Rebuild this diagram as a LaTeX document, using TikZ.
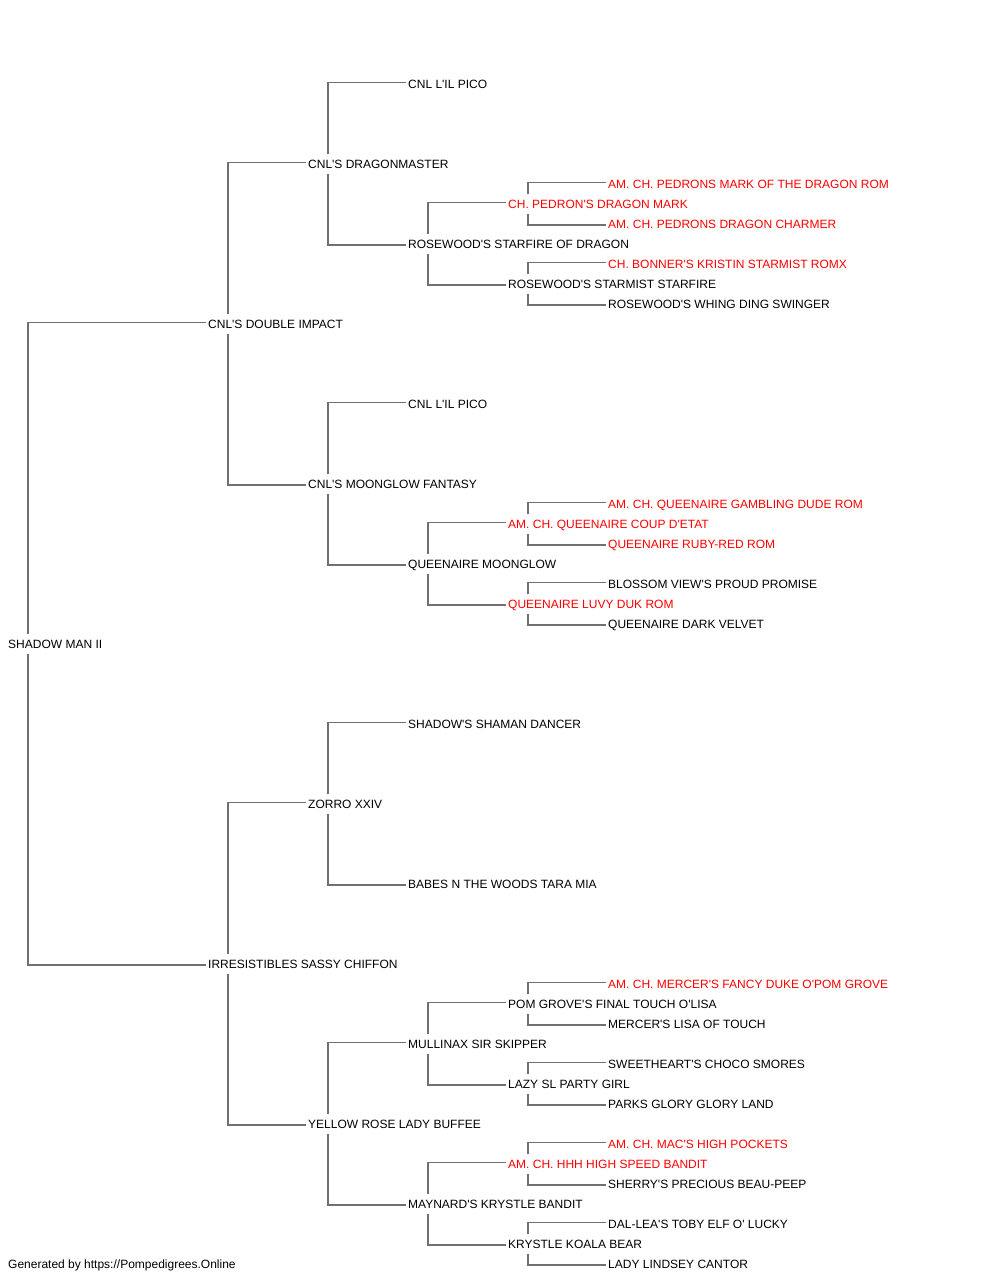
\documentclass[tikz,border=0pt]{standalone}
\usepackage{fontspec}
\setmainfont{Liberation Sans}[Ligatures=TeXOff]
\usepackage{xcolor}
\usepackage{tikz}
\usetikzlibrary{positioning}
\definecolor{linkgray}{RGB}{112,112,112}
\definecolor{champred}{RGB}{255,0,0}
\tikzstyle{dog} = [
    anchor=west,
    inner xsep=2pt,
    inner ysep=5.2pt,
    text height=8.6pt,
    text depth=0pt,
    font=\fontsize{12pt}{14pt}\selectfont
]
\tikzstyle{champ} = [
    dog,
    text=champred
]
\tikzstyle{link} = [
    draw=linkgray,
    line width=1.4pt
]

\begin{document}
\begin{tikzpicture}[x=1pt, y=-1pt]
    \useasboundingbox (0,0) rectangle (1000,1280);
    % generation 0 and 1
    \node[dog] (root) at (6,644)  {SHADOW MAN II};
    \node[dog] (s)    at (206,324) {CNL'S DOUBLE IMPACT};
    \node[dog] (d)    at (206,964) {IRRESISTIBLES SASSY CHIFFON};
    % generation 2
    \node[dog] (ss) at (306,164)  {CNL'S DRAGONMASTER};
    \node[dog] (sd) at (306,484)  {CNL'S MOONGLOW FANTASY};
    \node[dog] (ds) at (306,804)  {ZORRO XXIV};
    \node[dog] (dd) at (306,1124) {YELLOW ROSE LADY BUFFEE};
    % generation 3
    \node[dog] (sss) at (406,84)   {CNL L'IL PICO};
    \node[dog] (ssd) at (406,244)  {ROSEWOOD'S STARFIRE OF DRAGON};
    \node[dog] (sds) at (406,404)  {CNL L'IL PICO};
    \node[dog] (sdd) at (406,564)  {QUEENAIRE MOONGLOW};
    \node[dog] (dss) at (406,724)  {SHADOW'S SHAMAN DANCER};
    \node[dog] (dsd) at (406,884)  {BABES N THE WOODS TARA MIA};
    \node[dog] (dds) at (406,1044) {MULLINAX SIR SKIPPER};
    \node[dog] (ddd) at (406,1204) {MAYNARD'S KRYSTLE BANDIT};
    % generation 4
    \node[champ] (ssds) at (506,204)  {CH. PEDRON'S DRAGON MARK};
    \node[dog]   (ssdd) at (506,284)  {ROSEWOOD'S STARMIST STARFIRE};
    \node[champ] (sdds) at (506,524)  {AM. CH. QUEENAIRE COUP D'ETAT};
    \node[champ] (sddd) at (506,604)  {QUEENAIRE LUVY DUK ROM};
    \node[dog]   (ddss) at (506,1004) {POM GROVE'S FINAL TOUCH O'LISA};
    \node[dog]   (ddsd) at (506,1084) {LAZY SL PARTY GIRL};
    \node[champ] (ddds) at (506,1164) {AM. CH. HHH HIGH SPEED BANDIT};
    \node[dog]   (dddd) at (506,1244) {KRYSTLE KOALA BEAR};
    % generation 5
    \node[champ] (ssdss) at (606,184)  {AM. CH. PEDRONS MARK OF THE DRAGON ROM};
    \node[champ] (ssdsd) at (606,224)  {AM. CH. PEDRONS DRAGON CHARMER};
    \node[champ] (ssdds) at (606,264)  {CH. BONNER'S KRISTIN STARMIST ROMX};
    \node[dog]   (ssddd) at (606,304)  {ROSEWOOD'S WHING DING SWINGER};
    \node[champ] (sddss) at (606,504)  {AM. CH. QUEENAIRE GAMBLING DUDE ROM};
    \node[champ] (sddsd) at (606,544)  {QUEENAIRE RUBY-RED ROM};
    \node[dog]   (sddds) at (606,584)  {BLOSSOM VIEW'S PROUD PROMISE};
    \node[dog]   (sdddd) at (606,624)  {QUEENAIRE DARK VELVET};
    \node[champ] (ddsss) at (606,984)  {AM. CH. MERCER'S FANCY DUKE O'POM GROVE};
    \node[dog]   (ddssd) at (606,1024) {MERCER'S LISA OF TOUCH};
    \node[dog]   (ddsds) at (606,1064) {SWEETHEART'S CHOCO SMORES};
    \node[dog]   (ddsdd) at (606,1104) {PARKS GLORY GLORY LAND};
    \node[champ] (dddss) at (606,1144) {AM. CH. MAC'S HIGH POCKETS};
    \node[dog]   (dddsd) at (606,1184) {SHERRY'S PRECIOUS BEAU-PEEP};
    \node[dog]   (dddds) at (606,1224) {DAL-LEA'S TOBY ELF O' LUCKY};
    \node[dog]   (ddddd) at (606,1264) {LADY LINDSEY CANTOR};
    % credit line
    \node[dog] (credit) at (6,1264) {Generated by https://Pompedigrees.Online};
    % sires: up from the parent
    \foreach \p/\c in {root/s, s/ss, d/ds, ss/sss, sd/sds, ds/dss, dd/dds,
        ssd/ssds, sdd/sdds, dds/ddss, ddd/ddds,
        ssds/ssdss, ssdd/ssdds, sdds/sddss, sddd/sddds,
        ddss/ddsss, ddsd/ddsds, ddds/dddss, dddd/dddds}
        \draw[link] ([xshift=22pt]\p.north west) |- ([yshift=1.5pt]\c.west);
    % dams: down from the parent
    \foreach \p/\c in {root/d, s/sd, d/dd, ss/ssd, sd/sdd, ds/dsd, dd/ddd,
        ssd/ssdd, sdd/sddd, dds/ddsd, ddd/dddd,
        ssds/ssdsd, ssdd/ssddd, sdds/sddsd, sddd/sdddd,
        ddss/ddssd, ddsd/ddsdd, ddds/dddsd, dddd/ddddd}
        \draw[link] ([xshift=22pt]\p.south west) |- ([yshift=-1pt]\c.west);
\end{tikzpicture}
\end{document}
